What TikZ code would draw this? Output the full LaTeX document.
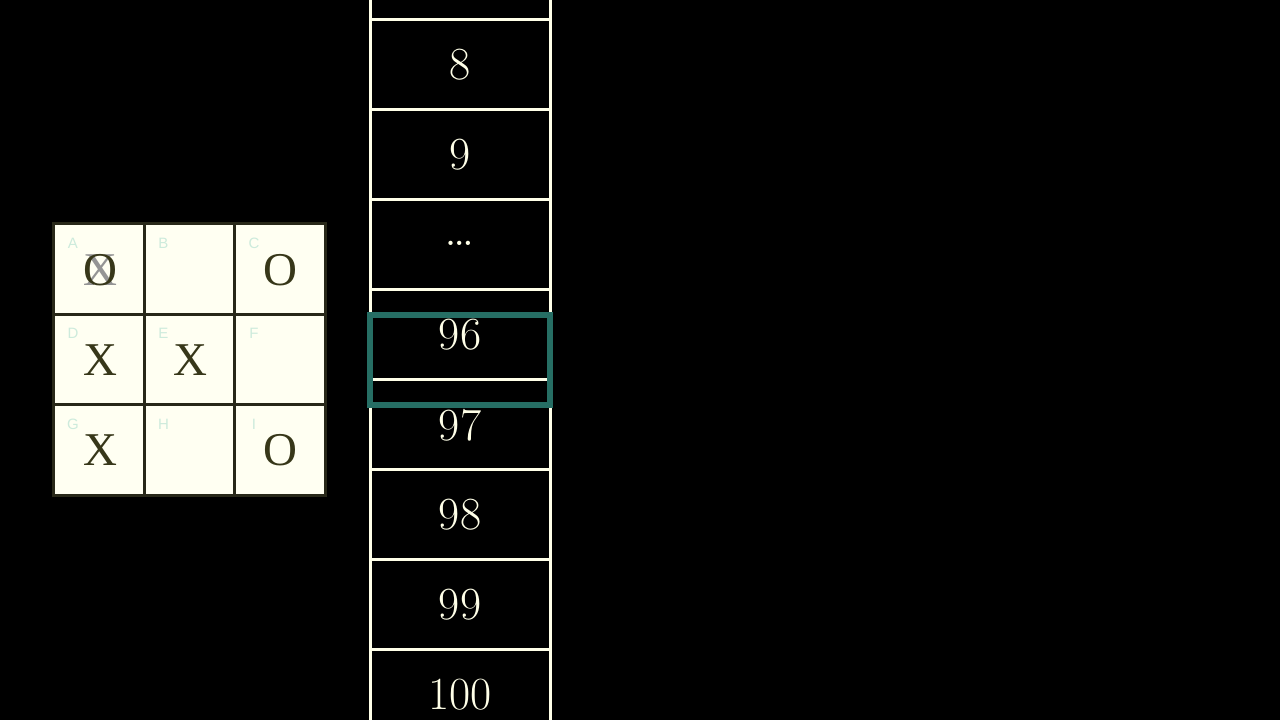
\documentclass[tikz,border=0pt]{standalone}
\usepackage{fontspec}
\newfontfamily\smallsans{Liberation Sans}
\newfontfamily\markserif{Liberation Serif}
\definecolor{cream}{RGB}{255,255,232}
\definecolor{boardbg}{RGB}{255,255,242}
\definecolor{gridline}{RGB}{40,40,25}
\definecolor{mark}{RGB}{55,55,25}
\definecolor{faint}{RGB}{205,235,220}
\definecolor{hilite}{RGB}{38,110,100}
\begin{document}
\begin{tikzpicture}[x=1pt,y=-1pt,
  numlabel/.style={text=cream,font=\fontsize{46}{46}\selectfont,inner sep=0pt},
  cellbox/.style={draw=gridline,line width=3pt,fill=boardbg,minimum size=91pt,inner sep=0pt},
  marktext/.style={text=mark,font=\markserif\fontsize{47}{47}\selectfont,inner sep=0pt},
  ghost/.style={text=black!42,font=\markserif\fontsize{47}{47}\selectfont,inner sep=0pt},
  cellname/.style={text=faint,font=\smallsans\fontsize{15}{15}\selectfont,inner sep=0pt},
  colline/.style={draw=cream,line width=3pt}]
\fill[black] (0,0) rectangle (1280,720);
\useasboundingbox (0,0) rectangle (1280,720);
% column
\foreach \yy in {19,109,199,289,379,469,559,649}{
  \draw[colline] (370,\yy) -- (550,\yy);
}
\draw[colline] (370,-5) -- (370,725);
\draw[colline] (550,-5) -- (550,725);
\node[numlabel] (n8) at (460,65) {8};
\node[numlabel] (n9) at (460,155) {9};
\node[numlabel,font=\fontsize{52}{52}\selectfont] (ndots) at (460,243) {\ldots};
\node[numlabel] (n96) at (460,335) {96};
\node[numlabel] (n97) at (460,425) {97};
\node[numlabel] (n98) at (460,515) {98};
\node[numlabel] (n99) at (460,605) {99};
\node[numlabel] (n100) at (460,695) {100};
\node[draw=hilite,line width=6.5pt,minimum width=180pt,minimum height=90pt,inner sep=0pt] (hl) at (460,360) {};
% board
\foreach \r/\c/\nm in {0/0/A,0/1/B,0/2/C,1/0/D,1/1/E,1/2/F,2/0/G,2/1/H,2/2/I}{
  \node[cellbox] (cell\nm) at (99+90.5*\c,269+90.5*\r) {};
  \node[cellname] (lab\nm) at (73+90.5*\c,243+90.5*\r) {\nm};
}
\node[ghost] (ghostA) at (100,270) {X};
\node[marktext] (mA) at (100,270) {O};
\node[marktext] (mC) at (280,270) {O};
\node[marktext] (mD) at (100,360) {X};
\node[marktext] (mE) at (190,360) {X};
\node[marktext] (mG) at (100,450) {X};
\node[marktext] (mI) at (280,450) {O};
\end{tikzpicture}
\end{document}
